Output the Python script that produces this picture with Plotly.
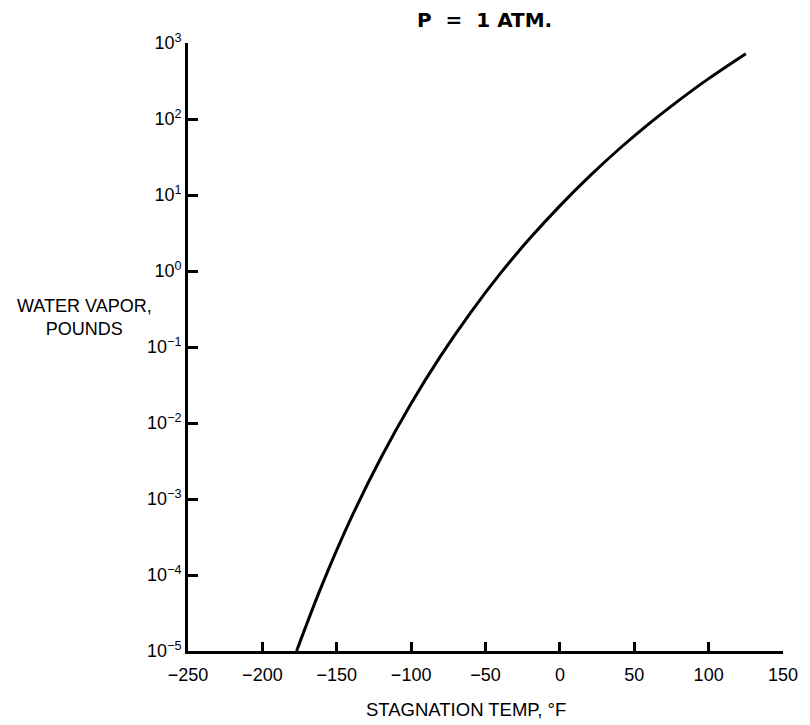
import plotly.graph_objects as go

# Data
temp_f = [-177, -160, -140, -120, -100, -80, -60, -40, -20, 0, 20, 40, 60, 80, 100, 125]
water_lb = [1.0e-5, 7.3e-5, 5.8e-4, 3.57e-3, 1.81e-2, 7.7e-2, 0.284, 0.93, 2.71,
            7.2, 17.7, 40.6, 87.0, 176.0, 340.0, 724.0]

x_ticks = [-250, -200, -150, -100, -50, 0, 50, 100, 150]
x_ticktext = ["\u2212250", "\u2212200", "\u2212150", "\u2212100", "\u221250",
              "0", "50", "100", "150"]
y_exps = [-5, -4, -3, -2, -1, 0, 1, 2, 3]
y_ticks = [10.0 ** e for e in y_exps]
y_ticktext = ["10<sup>%s</sup>" % (str(e).replace("-", "\u2212")) for e in y_exps]

FONT = "Liberation Sans, Arial, sans-serif"
TFONT = "DejaVu Sans, Liberation Sans, sans-serif"

fig = go.Figure()
fig.add_trace(go.Scatter(
    x=temp_f, y=water_lb, mode="lines",
    line=dict(color="black", width=3, shape="spline", smoothing=1.0),
    showlegend=False, hoverinfo="skip",
))

fig.update_layout(
    width=810, height=725,
    margin=dict(l=188, r=19, t=43, b=74),
    paper_bgcolor="white", plot_bgcolor="white",
    font=dict(family=FONT, size=18, color="black"),
    xaxis=dict(
        range=[-250, 150], tickvals=x_ticks, ticktext=x_ticktext,
        ticks="inside", ticklen=9, tickwidth=2.5, tickcolor="black",
        showline=True, linecolor="black", linewidth=2.8,
        showgrid=False, zeroline=False, ticklabelstandoff=5,
        tickfont=dict(family=FONT, size=18, color="black"),
    ),
    yaxis=dict(
        type="log", range=[-5, 3], tickvals=y_ticks, ticktext=y_ticktext,
        ticks="inside", ticklen=10, tickwidth=2.5, tickcolor="black",
        showline=True, linecolor="black", linewidth=2.8,
        showgrid=False, zeroline=False,
        tickfont=dict(family=FONT, size=18, color="black"),
    ),
    annotations=[
        dict(text="<b>P\u00a0 =\u00a0 1 ATM.</b>", xref="paper", yref="paper",
             x=0.499, y=1.038, xanchor="center", yanchor="middle",
             showarrow=False, font=dict(family=TFONT, size=20, color="black")),
        dict(text="WATER VAPOR,<br>POUNDS", xref="paper", yref="paper",
             x=-0.174, y=0.548, xanchor="center", yanchor="middle", align="center",
             showarrow=False, font=dict(family=FONT, size=18, color="black")),
        dict(text="STAGNATION TEMP, \u00b0F", xref="paper", yref="paper",
             x=0.468, y=-0.097, xanchor="center", yanchor="middle",
             showarrow=False, font=dict(family=FONT, size=18.5, color="black")),
    ],
)

fig.write_html("out.html")
